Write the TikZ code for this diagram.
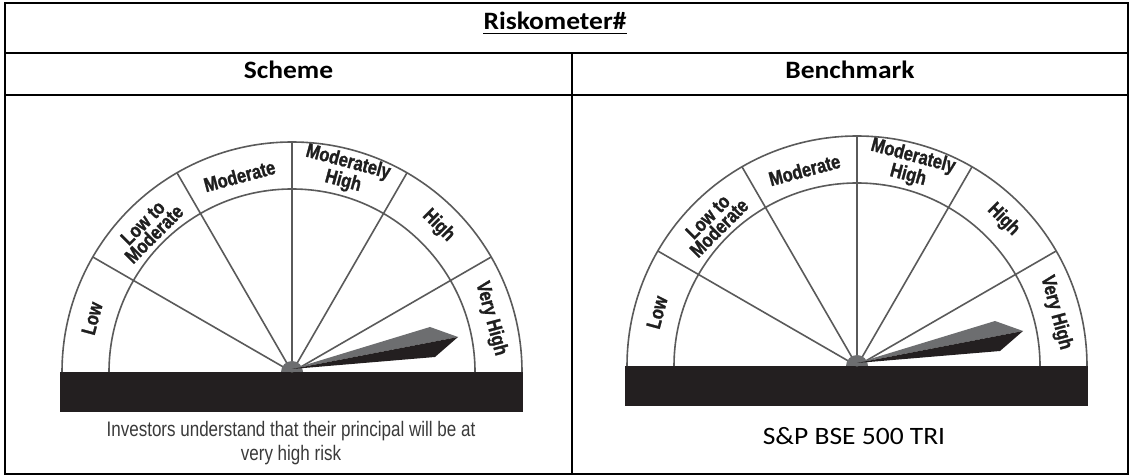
\documentclass[tikz,border=0pt]{standalone}
\usepackage{fontspec}
\setmainfont{Carlito}
\newfontfamily\hdfont[FakeStretch=1.1]{Carlito}
\newfontfamily\gfont[FakeStretch=0.82,BoldFeatures={FakeBold=1.2}]{Liberation Sans}
\newfontfamily\capfont[FakeStretch=0.81]{Liberation Sans}
\definecolor{barblack}{HTML}{231F20}
\definecolor{gline}{HTML}{5A5A5A}
\definecolor{ggray}{HTML}{6D6E70}
\definecolor{captxt}{HTML}{3A3A3A}
\newcommand{\rmeter}[1]{%
  \fill[barblack] (-232,0) rectangle (231,-40);
  \draw[gl] (230,0) arc[start angle=0,end angle=180,radius=230];
  \draw[gl] (183,0) arc[start angle=0,end angle=180,radius=183];
  \foreach \a in {30,60,...,150} \draw[gl] (0,0) -- (\a:230);
  \fill[ggray] (11,0) arc[start angle=0,end angle=180,radius=11] -- cycle;
  \fill[ggray] (0,3) -- (138,45) -- (166,35) -- cycle;
  \fill[barblack] (0,3) -- (166,35) -- (143,15) -- cycle;
  \node[seg,rotate=75] (#1low) at (165:207) {Low};
  \node[seg,rotate=45] (#1ltm) at (135:203) {Low to\\Moderate};
  \node[seg,rotate=15] (#1mod) at (105:203) {Moderate};
  \node[seg,rotate=-15] (#1mh) at (75:207) {Moderately\\High};
  \node[seg,rotate=-45] (#1high) at (45:207) {High};
  \node[seg,rotate=-75] (#1vh) at (15:206) {Very High};
}
\begin{document}
\begin{tikzpicture}[x=1pt,y=1pt,
  tline/.style={line width=2pt, black},
  hdr/.style={font=\hdfont\fontsize{25}{30}\selectfont\bfseries, anchor=base, inner sep=0pt},
  body/.style={font=\hdfont\fontsize{25}{30}\selectfont, anchor=base, inner sep=0pt},
  gl/.style={gline, line width=1.6pt},
  seg/.style={font=\gfont\bfseries\fontsize{20}{16}\selectfont, align=center, inner sep=0pt, text=black!88},
  captext/.style={font=\capfont\fontsize{21}{24}\selectfont, text=captxt, align=center, inner sep=0pt},
]
\useasboundingbox (0,0) rectangle (1132,476);
\fill[white] (0,0) rectangle (1132,476);
% table
\draw[tline] (5,2) rectangle (1128,473);
\draw[tline] (5,423) -- (1128,423);
\draw[tline] (5,381) -- (1128,381);
\draw[tline] (572,423) -- (572,2);
\node[hdr] (title) at (555,446) {Riskometer\#};
\draw[line width=1.5pt] ([yshift=-3.5pt]title.base west) -- ([yshift=-3.5pt]title.base east);
\node[hdr] (scheme) at (288.5,397) {Scheme};
\node[hdr] (bench) at (850,397) {Benchmark};
% gauges
\begin{scope}[shift={(292,104)}]
  \rmeter{s}
\end{scope}
\begin{scope}[shift={(857,110)}]
  \rmeter{b}
\end{scope}
\node[captext] (caption) at (291,33) {Investors understand that their principal will be at\\very high risk};
\node[body] (index) at (854,31) {S\&P BSE 500 TRI};
\end{tikzpicture}
\end{document}
